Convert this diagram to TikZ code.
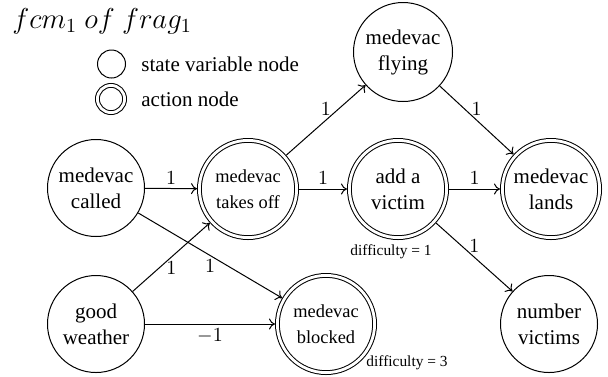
\documentclass[tikz,border=0pt]{standalone}
\usepackage{fontspec}
\setmainfont{Liberation Serif}
\usetikzlibrary{arrows.meta}
\begin{document}
\begin{tikzpicture}[x=0.5pt,y=-0.5pt,
  every node/.style={inner sep=0pt},
  sv/.style={circle, draw, line width=0.5pt, minimum size=48.5pt, align=center, font=\fontsize{10.5}{13}\selectfont},
  act/.style={circle, draw, line width=0.5pt, double, double distance=1.4pt, minimum size=48.6pt, outer sep=1.2pt, align=center, font=\fontsize{9.2}{13}\selectfont},
  actbig/.style={act, font=\fontsize{10.5}{13}\selectfont},
  legsv/.style={circle, draw, line width=0.5pt, minimum size=14pt},
  legact/.style={circle, draw, line width=0.5pt, double, double distance=1.4pt, minimum size=13.6pt},
  legtxt/.style={anchor=west, font=\fontsize{10.5}{13}\selectfont},
  conn/.style={-{To[length=3pt,width=5.5pt]}, line width=0.5pt},
  lbl/.style={font=\fontsize{10}{12}\selectfont, inner sep=2pt},
  diff/.style={font=\fontsize{7.7}{9}\selectfont}
]
\useasboundingbox (0,0) rectangle (608,376);

% title and legend
\node[anchor=base west, font=\fontsize{14.4}{17}\selectfont] (title) at (12,28) {$fcm_1\ of\ frag_1$};
\node[legsv] (l1) at (111.5,64) {};
\node[legact] (l2) at (111,99) {};
\node[legtxt] (t1) at (141,64) {state variable node};
\node[legtxt] (t2) at (141,99) {action node};

% nodes
\node[sv] (called) at (96,188) {medevac\\called};
\node[act] (takeoff) at (248,189) {medevac\\takes off};
\node[actbig] (victim) at (398,189) {add a\\victim};
\node[actbig] (lands) at (551,189) {medevac\\lands};
\node[sv, minimum size=49.5pt] (flying) at (403,52) {medevac\\flying};
\node[sv] (good) at (96,324) {good\\weather};
\node[act] (blocked) at (326,324) {medevac\\blocked};
\node[sv] (number) at (549,324) {number\\victims};

\node[diff] (d1) at (391,252) {difficulty = 1};
\node[diff] (d3) at (407,363) {difficulty = 3};

% connectors
\draw[conn] (called) -- node[lbl, above] {$1$} (takeoff);
\draw[conn] (takeoff) -- node[lbl, above] {$1$} (victim);
\draw[conn] (takeoff) -- node[lbl, above] {$1$} (flying);
\draw[conn] (flying) -- node[lbl, above] {$1$} (lands);
\draw[conn] (victim) -- node[lbl, above] {$1$} (lands);
\draw[conn] (victim) -- node[lbl, above] {$1$} (number);
\draw[conn] (good) -- node[lbl, below] {$1$} (takeoff);
\draw[conn] (called) -- node[lbl, below] {$1$} (blocked);
\draw[conn] (good) -- node[lbl, below] {$-1$} (blocked);
\end{tikzpicture}
\end{document}
